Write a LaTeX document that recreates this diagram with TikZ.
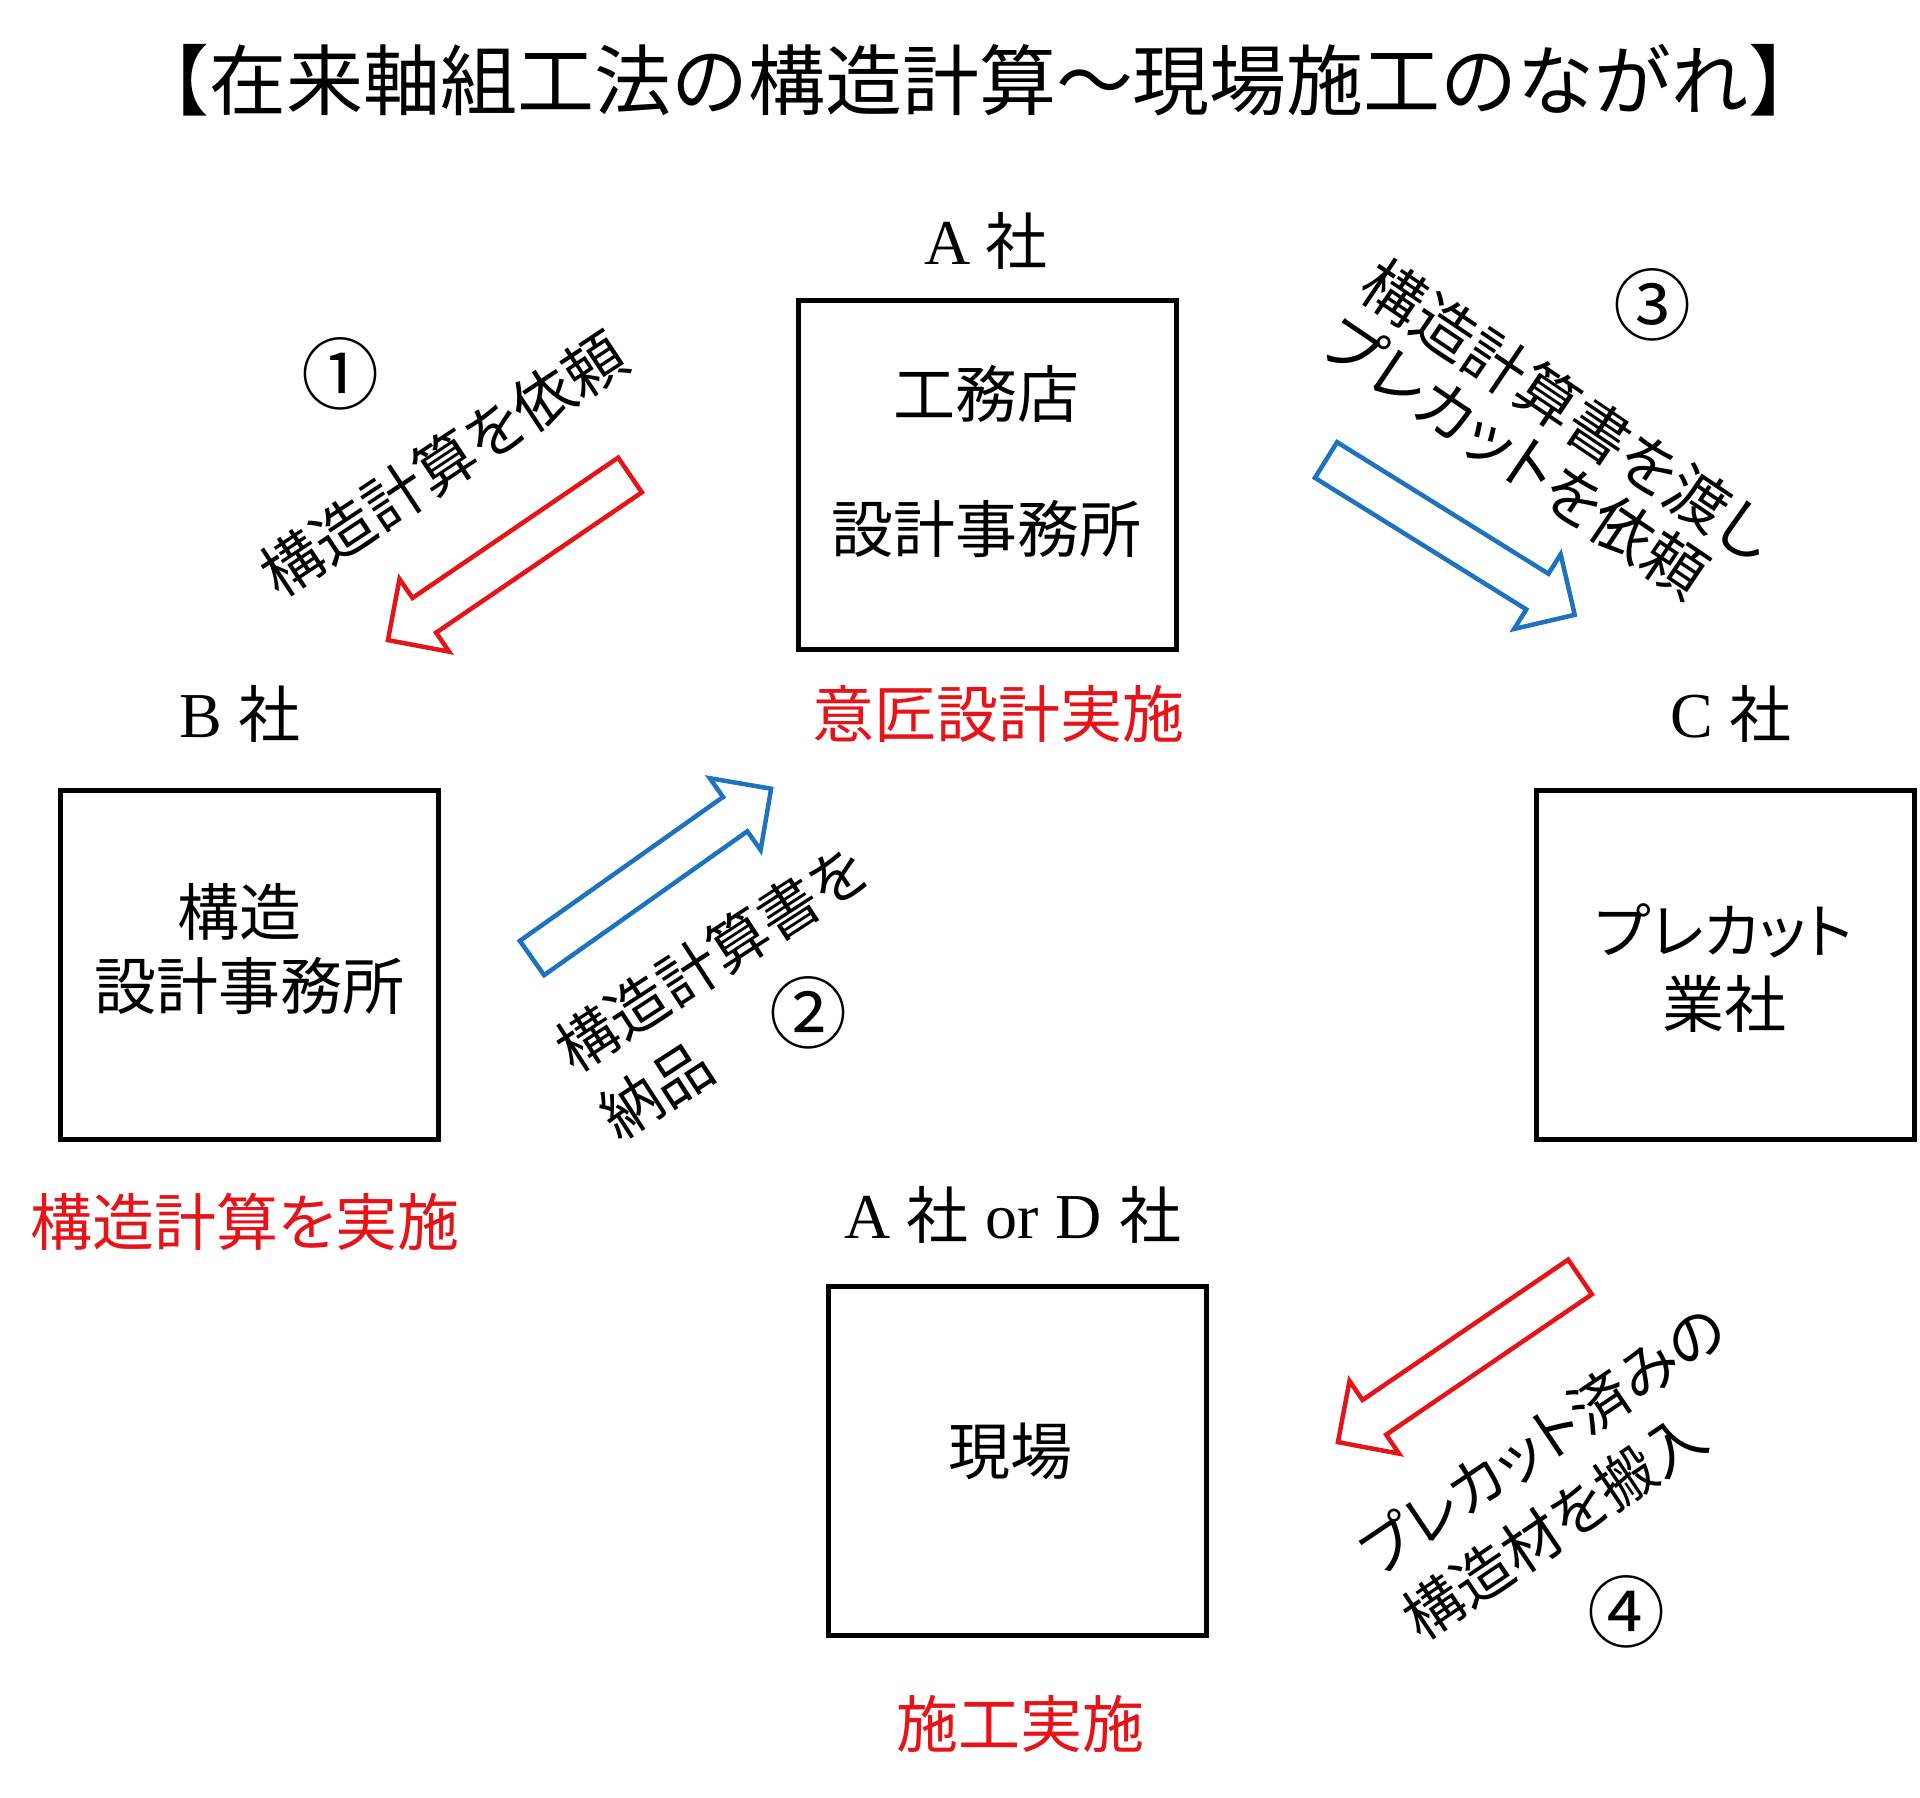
\documentclass[tikz,border=0pt]{standalone}
\usepackage{fontspec}
\setmainfont{Noto Sans CJK JP}[RawFeature={+palt}]
\newfontfamily\titlefont{Noto Sans CJK JP}
\newfontfamily\latfont{Liberation Serif}
\newcommand\lat[1]{{\latfont\fontsize{64}{70}\selectfont #1}}
\definecolor{myred}{RGB}{230,20,25}
\definecolor{myblue}{RGB}{30,115,190}
\newcommand\fatarrow[4]{%
  \begin{scope}[shift={(#1,#2)},rotate=#3]
    \draw[#4,line width=4.5pt,line join=miter,fill=white]
      (0,-21) -- (249,-21) -- (249,-44) -- (293,0) -- (249,44) -- (249,21) -- (0,21) -- cycle;
  \end{scope}}
\begin{document}
\begin{tikzpicture}[x=1pt,y=-1pt,
  box/.style={draw,line width=5pt,minimum width=378pt,minimum height=349pt,inner sep=0pt},
  lbl/.style={font=\fontsize{62}{70}\selectfont,inner sep=0pt},
  redlbl/.style={lbl,text=myred},
  num/.style={font=\fontsize{78}{80}\selectfont,inner sep=0pt},
  rot/.style={inner sep=0pt,align=left}]
\fill[white] (0,0) rectangle (1920,1797);
\useasboundingbox (0,0) rectangle (1920,1797);

\node[inner sep=0pt,font=\titlefont\fontsize{77}{80}\selectfont] (title) at (979,80) {【在来軸組工法の構造計算〜現場施工のながれ】};

% boxes
\node[box] (boxA) at (987,474.5) {};
\node[box] (boxB) at (249.5,964.5) {};
\node[box] (boxC) at (1725.5,964.5) {};
\node[box] (boxD) at (1017,1460.5) {};

% labels
\node[lbl] (labA) at (986,241) {\lat{A}\hspace{15pt}社};
\node[lbl] (koumuten) at (986,394) {工務店};
\node[lbl] (sekkeiA) at (986,529) {設計事務所};
\node[redlbl] (ishou) at (998,714) {意匠設計実施};

\node[lbl] (labB) at (240,714) {\lat{B}\hspace{16pt}社};
\node[lbl] (kouzou) at (239,912) {構造};
\node[lbl] (sekkeiB) at (249,986) {設計事務所};
\node[redlbl] (jisshiB) at (245,1222) {構造計算を実施};

\node[lbl] (labC) at (1731,714) {\lat{C}\hspace{16pt}社};
\node[lbl,font=\fontsize{60}{70}\selectfont] (precut) at (1724,931) {プレカット};
\node[lbl] (gyousha) at (1724,1004) {業社};

\node[lbl] (labAD) at (1013,1215) {\lat{A}\hspace{16pt}社\hspace{17pt}\lat{or}\hspace{17pt}\lat{D}\hspace{18pt}社};
\node[lbl] (genba) at (1010,1451) {現場};
\node[redlbl] (sekou) at (1020,1724) {施工実施};

% arrows
\fatarrow{630}{475}{214.3}{myred}
\fatarrow{532}{958}{35.3}{myblue}
\fatarrow{1326}{460}{-31.9}{myblue}
\fatarrow{1580}{1277}{214.3}{myred}

% rotated texts
\node[rot,rotate=33.5,font=\fontsize{61}{70}\selectfont] (t1) at (443,464) {構造計算を依頼};
\node[rot,rotate=33,font=\fontsize{60}{81}\selectfont] (t2) at (733,992) {構造計算書を\\納品};
\node[rot,rotate=-34,font=\fontsize{62}{68}\selectfont] (t3) at (1549,438) {構造計算書を渡し\\プレカットを依頼};
\node[rot,rotate=34,font=\fontsize{59}{78}\selectfont] (t4) at (1564,1472) {プレカット済みの\\構造材を搬入};

% numbers
\node[num] (n1) at (340,374) {①};
\node[num] (n2) at (808,1013) {②};
\node[num] (n3) at (1652,305) {③};
\node[num] (n4) at (1626,1612) {④};
\end{tikzpicture}
\end{document}
